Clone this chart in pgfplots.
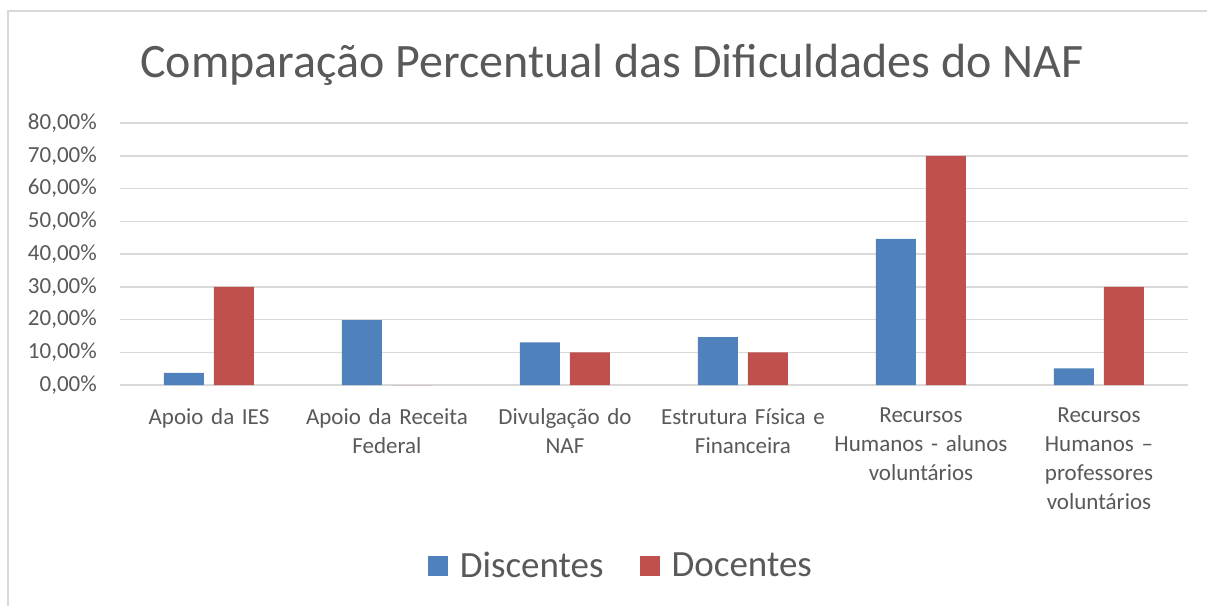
\documentclass[border=0pt]{standalone}
\usepackage{fontspec}
\setmainfont{Carlito}
\usepackage{pgfplots}
\pgfplotsset{compat=1.18}
\definecolor{cblue}{HTML}{4F81BD}
\definecolor{cred}{HTML}{C0504D}
\definecolor{txt}{HTML}{595959}
\definecolor{gridc}{HTML}{D9D9D9}
\begin{document}
\begin{tikzpicture}[x=1pt,y=1pt]
\useasboundingbox (-120,-221) rectangle (1087,385);
\fill[white] (-120,-221) rectangle (1087,385);
\draw[gridc, line width=1.5pt] (-112,-221) -- (-112,374) -- (1087,374);
\node[text=txt, font=\fontsize{48}{56}\selectfont] at (492,320) {Comparação Percentual das Dificuldades do NAF};
\begin{axis}[
  at={(0,0)}, anchor=south west,
  scale only axis, width=1068pt, height=262pt,
  xmin=-0.5, xmax=5.5, ymin=0, ymax=80,
  ybar, bar width=40pt,
  ytick={0,10,...,80},
  ymajorgrids, grid style={gridc, line width=1.5pt},
  axis line style={draw=none},
  major tick length=0pt,
  xtick={0,...,5},
  xticklabels={{Apoio da IES},{Apoio da Receita\\Federal},{Divulgação do\\NAF},{Estrutura Física e\\Financeira},{Recursos\\Humanos - alunos\\voluntários},{Recursos\\Humanos –\\professores\\voluntários}},
  xticklabel style={text width=180pt, align=center, anchor=north, inner sep=0pt, yshift=-23pt, text=txt, font=\fontsize{23}{29}\selectfont},
  /pgf/number format/assume math mode=true,
  yticklabel={\pgfmathprintnumber[fixed,zerofill,precision=2,use comma]{\tick}\%},
  yticklabel style={anchor=east, inner sep=0pt, xshift=-23pt, text=txt, font=\fontsize{23}{29}\selectfont},
  legend style={at={(0.469,-0.69)}, anchor=center, draw=none, fill=none, legend columns=2, font=\fontsize{37}{40}\selectfont, text=txt, /tikz/every even column/.append style={column sep=34pt}},
  legend image code/.code={\fill[#1] (0pt,-10pt) rectangle (20pt,10pt); \path (30pt,0pt);},
]
\addplot[fill=cblue, draw=none, bar shift=-25pt] coordinates {(0,3.7) (1,19.8) (2,13.0) (3,14.6) (4,44.6) (5,5.1)};
\addplot[fill=cred, draw=none, bar shift=25pt] coordinates {(0,30) (1,0) (2,10) (3,10) (4,70) (5,30)};
\legend{Discentes, Docentes}
\end{axis}
\end{tikzpicture}
\end{document}
